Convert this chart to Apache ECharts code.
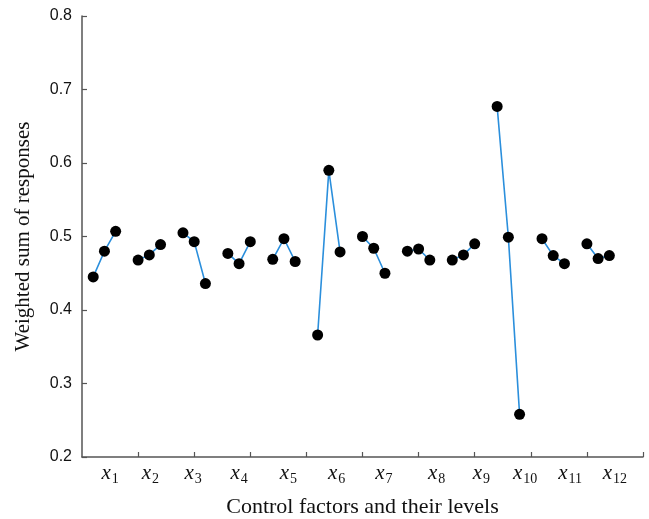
<!doctype html>
<html lang="en">
<head>
    <meta charset="UTF-8">
    <script src="https://cdn.jsdelivr.net/npm/echarts@6.0.0/dist/echarts.min.js"></script>
    <title>Weighted sum of responses</title>
</head>
<body style="margin:0">
<div id="main" style="width: 649px;height:519px;"></div>
<script>
    // factor names and their levels
    var factors = ['1', '2', '3', '4', '5', '6', '7', '8', '9', '10', '11', '12'];
    // weighted sum of responses for level 1..3 of each factor
    var sums = [
        [0.445, 0.480, 0.507],
        [0.468, 0.475, 0.489],
        [0.505, 0.493, 0.436],
        [0.477, 0.463, 0.493],
        [0.469, 0.497, 0.466],
        [0.366, 0.590, 0.479],
        [0.500, 0.484, 0.450],
        [0.480, 0.483, 0.468],
        [0.468, 0.475, 0.490],
        [0.677, 0.499, 0.258],
        [0.497, 0.474, 0.463],
        [0.490, 0.470, 0.474]
    ];
    // where the factor labels sit along the x axis
    var labelPos = [2.5, 6.1, 9.9, 14.0, 18.4, 22.7, 26.9, 31.6, 35.6, 39.5, 43.5, 47.5];
    var xTicks = [5, 10, 15, 20, 25, 30, 35, 40, 45, 50];
    var yTicks = [0.2, 0.3, 0.4, 0.5, 0.6, 0.7, 0.8];

    var myChart = echarts.init(document.getElementById('main'));

    var series = [];
    for (var g = 0; g < sums.length; g++) {
        var pts = [];
        for (var l = 0; l < sums[g].length; l++) {
            pts.push([g * 4 + l + 1, sums[g][l]]);
        }
        series.push({
            type: 'line',
            data: pts,
            symbol: 'circle',
            symbolSize: 11,
            itemStyle: {color: '#000'},
            lineStyle: {color: '#2b8fdc', width: 1.6},
            animation: false
        });
    }

    var option = {
        grid: {left: 82, right: 6, top: 16, bottom: 62, outerBoundsMode: 'none'},
        xAxis: {
            type: 'value',
            min: 0,
            max: 50,
            interval: 5,
            splitLine: {show: false},
            axisLine: {lineStyle: {color: '#555', width: 1.5}},
            axisTick: {inside: true, length: 5, customValues: xTicks, lineStyle: {color: '#555', width: 1.2}},
            axisLabel: {
                customValues: labelPos,
                margin: 6,
                formatter: function (v) {
                    var i = labelPos.indexOf(v);
                    return '{x|x}{s|' + factors[i] + '}';
                },
                rich: {
                    x: {fontFamily: 'Liberation Serif', fontStyle: 'italic', fontSize: 21, color: '#111', lineHeight: 22, verticalAlign: 'top'},
                    s: {fontFamily: 'Liberation Serif', fontSize: 14, color: '#111', lineHeight: 14, padding: [9, 0, 0, 1], verticalAlign: 'top'}
                }
            },
            name: 'Control factors and their levels',
            nameLocation: 'middle',
            nameGap: 39,
            nameTextStyle: {fontFamily: 'Liberation Serif', fontSize: 22, color: '#111'}
        },
        yAxis: {
            type: 'value',
            min: 0.2,
            max: 0.8,
            interval: 0.1,
            splitLine: {show: false},
            axisLine: {show: true, lineStyle: {color: '#555', width: 1.5}},
            axisTick: {show: true, inside: true, length: 5, customValues: yTicks, lineStyle: {color: '#555', width: 1.2}},
            axisLabel: {
                margin: 10,
                fontFamily: 'Liberation Sans',
                fontSize: 16,
                color: '#111',
                formatter: function (v) { return v.toFixed(1); }
            },
            name: 'Weighted sum of responses',
            nameLocation: 'middle',
            nameGap: 48,
            nameTextStyle: {fontFamily: 'Liberation Serif', fontSize: 21, color: '#111'}
        },
        series: series
    };
    myChart.setOption(option);
</script>
</body>
</html>
